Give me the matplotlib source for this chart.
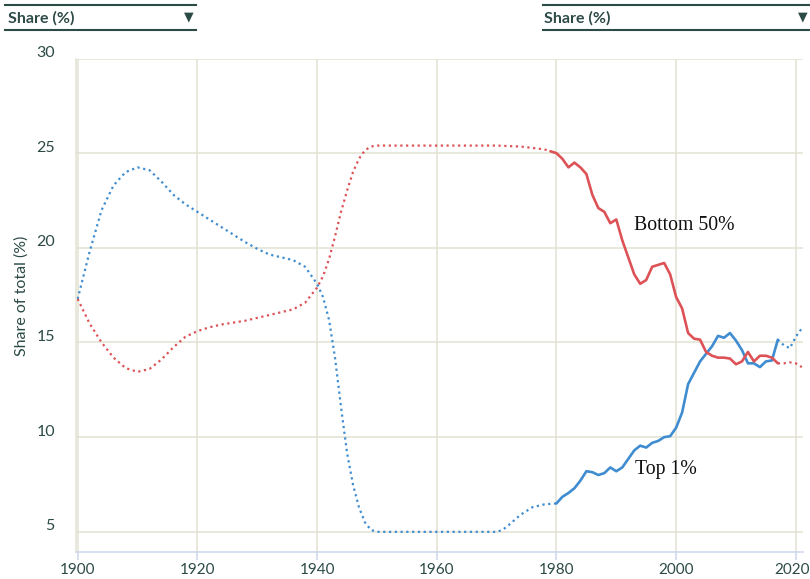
import matplotlib as mp
import matplotlib.pyplot as plt
import matplotlib.transforms as mtransforms
from matplotlib.lines import Line2D

# ---- data ----
top1_years_est = [1900, 1902, 1904, 1906, 1908, 1910, 1912, 1914, 1916, 1918,
                  1920, 1922, 1924, 1926, 1928, 1930, 1932, 1934, 1936, 1938,
                  1940, 1941, 1942, 1943, 1944, 1945, 1946, 1947, 1948, 1949,
                  1950, 1960, 1970, 1971, 1972, 1974, 1976, 1978, 1980]
top1_est = [17.3, 19.8, 22.0, 23.3, 24.0, 24.25, 24.1, 23.5, 22.8, 22.3,
            21.9, 21.5, 21.1, 20.7, 20.3, 19.95, 19.65, 19.5, 19.35, 19.0,
            18.1, 17.4, 16.2, 14.2, 11.6, 9.2, 7.5, 6.3, 5.5, 5.1,
            5.0, 5.0, 5.0, 5.1, 5.35, 5.9, 6.3, 6.45, 6.5]

top1_years = list(range(1980, 2018))
top1 = [6.5, 6.85, 7.05, 7.3, 7.7, 8.2, 8.15, 8.0, 8.1, 8.4,
        8.2, 8.4, 8.85, 9.3, 9.55, 9.45, 9.7, 9.8, 10.0, 10.05,
        10.5, 11.3, 12.8, 13.4, 14.0, 14.4, 14.8, 15.35, 15.25, 15.5,
        15.1, 14.6, 13.9, 13.9, 13.7, 14.0, 14.05, 15.15]

top1_years_tail = [2017, 2018, 2019, 2020, 2021]
top1_tail = [15.15, 14.85, 14.7, 15.3, 15.75]

bot50_years_est = [1900, 1902, 1904, 1906, 1908, 1910, 1912, 1914, 1916, 1918,
                   1920, 1922, 1924, 1926, 1928, 1930, 1932, 1934, 1936, 1938,
                   1940, 1941, 1942, 1943, 1944, 1945, 1946, 1947, 1948, 1949,
                   1950, 1960, 1970, 1974, 1978, 1979]
bot50_est = [17.3, 16.0, 15.0, 14.2, 13.65, 13.45, 13.6, 14.1, 14.75, 15.3,
             15.6, 15.8, 15.95, 16.05, 16.15, 16.3, 16.45, 16.6, 16.75, 17.1,
             17.9, 18.5, 19.4, 20.6, 21.9, 23.0, 24.0, 24.7, 25.15, 25.35,
             25.4, 25.4, 25.4, 25.35, 25.2, 25.1]

bot50_years = list(range(1979, 2018))
bot50 = [25.1, 25.0, 24.7, 24.25, 24.5, 24.25, 23.9, 22.8, 22.1, 21.9,
         21.3, 21.5, 20.4, 19.5, 18.6, 18.1, 18.3, 19.0, 19.1, 19.2,
         18.6, 17.4, 16.8, 15.5, 15.2, 15.15, 14.5, 14.3, 14.2, 14.2,
         14.15, 13.85, 14.0, 14.5, 14.0, 14.3, 14.3, 14.2, 13.9]

bot50_years_tail = [2017, 2018, 2019, 2020, 2021]
bot50_tail = [13.9, 13.9, 13.95, 13.9, 13.7]

x_ticks = [1900, 1920, 1940, 1960, 1980, 2000, 2020]
y_ticks = [5, 10, 15, 20, 25, 30]

# ---- style ----
RED = '#dd5257'
BLUE = '#3f8dd0'
GRID = '#e2e1d3'
TEXT = '#2c4a46'
AXIS = '#ccd6eb'
DOTS = (0, (1, 1.6))

plt.rcParams['font.family'] = ['Lato', 'DejaVu Sans']

fig = plt.figure(figsize=(8.1, 5.79), dpi=100)
ax = fig.add_axes([75.7 / 810, 27.3 / 579, (803 - 75.7) / 810, (551.7 - 58.5) / 579])

ax.plot(top1_years_est, top1_est, color=BLUE, lw=1.6, ls=DOTS)
ax.plot(top1_years, top1, color=BLUE, lw=1.9, solid_capstyle='round', solid_joinstyle='round')
ax.plot(top1_years_tail, top1_tail, color=BLUE, lw=1.6, ls=DOTS)

ax.plot(bot50_years_est, bot50_est, color=RED, lw=1.6, ls=DOTS)
ax.plot(bot50_years, bot50, color=RED, lw=1.9, solid_capstyle='round', solid_joinstyle='round')
ax.plot(bot50_years_tail, bot50_tail, color=RED, lw=1.6, ls=DOTS)

ax.text(1993.0, 21.2, 'Bottom 50%', family='Liberation Serif', fontsize=14.2,
        color='#111111', va='center', ha='left')
ax.text(1993.2, 8.3, 'Top 1%', family='Liberation Serif', fontsize=14.2,
        color='#111111', va='center', ha='left')

ax.set_xlim(1899.67, 2021.2)
ax.set_ylim(3.95, 30)
ax.set_xticks(x_ticks)
ax.set_yticks(y_ticks)
ax.grid(True, color=GRID, lw=1.1, zorder=0)
ax.set_axisbelow(True)

for side in ['top', 'right']:
    ax.spines[side].set_visible(False)
ax.spines['left'].set_color(GRID)
ax.spines['left'].set_linewidth(1.1)
ax.spines['bottom'].set_color(AXIS)
ax.spines['bottom'].set_linewidth(1.1)

ax.tick_params(axis='x', colors=AXIS, length=6, width=1.1, pad=2,
               labelcolor=TEXT, labelsize=11)
ax.tick_params(axis='y', length=0, pad=15, labelcolor=TEXT, labelsize=11.5)

# y labels sit a little above their grid lines
shift = mtransforms.ScaledTranslation(0, 7 / 100, fig.dpi_scale_trans)
for lab in ax.get_yticklabels():
    lab.set_transform(lab.get_transform() + shift)

# keep the last year label inside the canvas
last = ax.get_xticklabels()[-1]
last.set_transform(last.get_transform() +
                   mtransforms.ScaledTranslation(-4 / 100, 0, fig.dpi_scale_trans))

fig.text(22 / 810, 1 - 296 / 579, 'Share of total (%)', color=TEXT, fontsize=11.5,
         rotation=90, ha='center', va='center')

# header dropdowns
for x0, x1, tx in [(5, 196, 8), (543, 810, 544)]:
    for yy in [5, 30]:
        fig.add_artist(Line2D([x0 / 810, x1 / 810], [1 - yy / 579] * 2,
                              color=TEXT, lw=1.5, transform=fig.transFigure))
    fig.text(tx / 810, 1 - 18.5 / 579, 'Share (%)', color=TEXT, fontsize=11.5,
             fontweight='bold', ha='left', va='center')
    fig.text((x1 - 7) / 810, 1 - 17 / 579, '\u25bc', color=TEXT, fontsize=9,
             family='DejaVu Sans', ha='center', va='center')

fig.savefig('out.png', dpi=100)
